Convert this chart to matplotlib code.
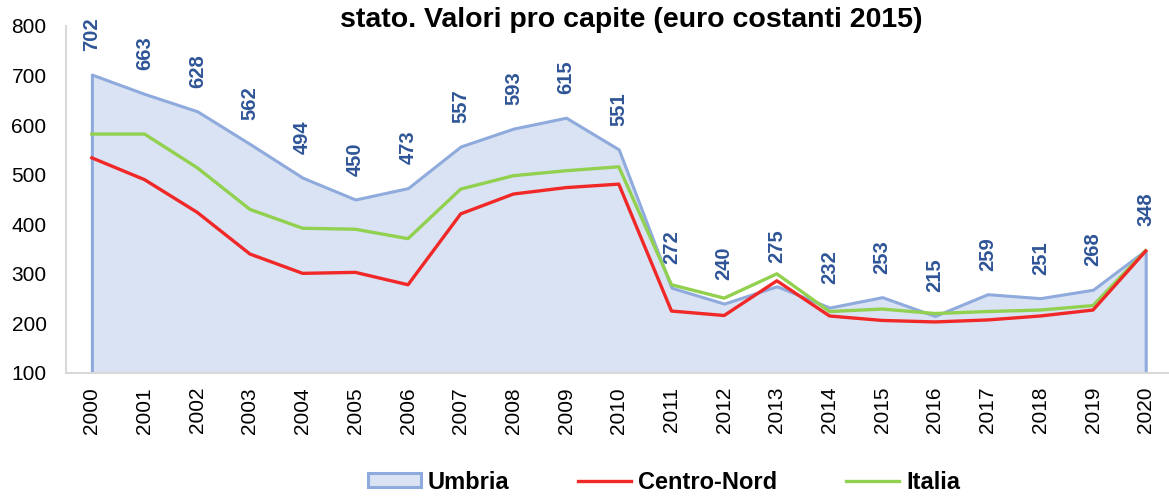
import matplotlib.pyplot as plt
import numpy as np

plt.rcParams['font.family'] = ['Liberation Sans', 'DejaVu Sans']

# dati (euro costanti 2015, pro capite)
anni = [str(a) for a in range(2000, 2021)]
umbria = [702, 663, 628, 562, 494, 450, 473, 557, 593, 615, 551,
          272, 240, 275, 232, 253, 215, 259, 251, 268, 348]
centro_nord = [534, 490, 424, 340, 301, 303, 278, 421, 461, 474, 481,
               225, 216, 286, 215, 206, 203, 207, 215, 227, 346]
italia = [582, 582, 514, 430, 392, 390, 371, 471, 498, 508, 516,
          278, 251, 300, 224, 229, 220, 224, 227, 236, 347]

titolo = 'stato. Valori pro capite (euro costanti 2015)'

fig = plt.figure(figsize=(11.69, 4.97), dpi=100)
ax = fig.add_axes([0.0565, 0.2495, 0.9425, 0.6982])

x = np.arange(len(anni))

# area Umbria
ax.fill_between(x, 100, umbria, facecolor='#DAE3F3', edgecolor='#8FAADC',
                linewidth=2.2, label='Umbria', zorder=1)
ax.plot(x, centro_nord, color='#F02828', linewidth=2.4, label='Centro-Nord', zorder=3)
ax.plot(x, italia, color='#92D050', linewidth=2.4, label='Italia', zorder=2)

# etichette dati Umbria
for xi, v in zip(x, umbria):
    ax.annotate(str(v), (xi, v), xytext=(0, 17), textcoords='offset points',
                rotation=90, ha='center', va='bottom', fontsize=14.5,
                fontweight='bold', color='#2F5597', zorder=4)

ax.set_xlim(-0.49, 20.42)
ax.set_ylim(100, 800)
ax.set_yticks(range(100, 801, 100))
ax.set_xticks(x)
ax.set_xticklabels(anni, rotation=90)
ax.tick_params(axis='both', length=0, labelsize=15)
ax.tick_params(axis='y', pad=14)
ax.tick_params(axis='x', pad=10)

for s in ['top', 'right']:
    ax.spines[s].set_visible(False)
for s in ['left', 'bottom']:
    ax.spines[s].set_color('#D9D9D9')
    ax.spines[s].set_linewidth(1.5)

fig.text(0.54, 0.96, titolo, ha='center', va='center', fontsize=20.5,
         fontweight='bold')

fig.legend(loc='center', bbox_to_anchor=(0.568, 0.03), ncol=3, frameon=False,
           prop={'size': 17, 'weight': 'bold'}, handlelength=2.25,
           handleheight=0.5, columnspacing=2.9, handletextpad=0.3,
           borderpad=0.1)

fig.savefig('out.png', dpi=100)
